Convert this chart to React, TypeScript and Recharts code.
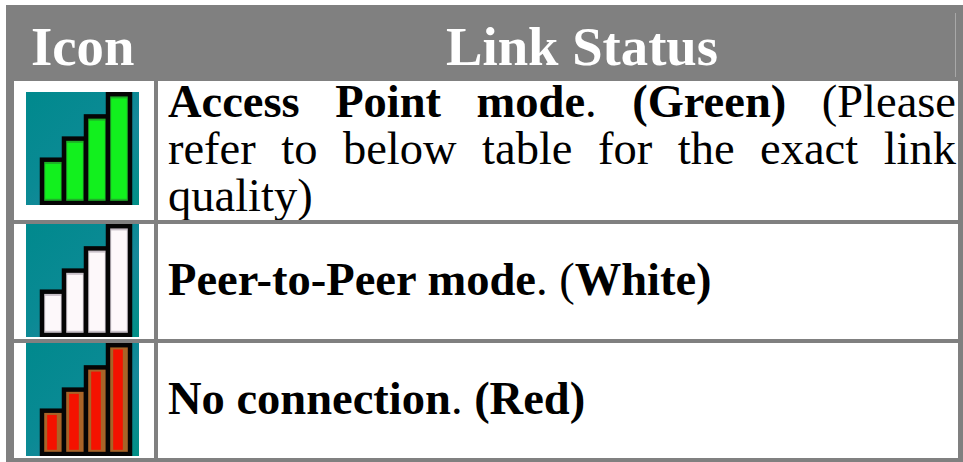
import { BarChart, Bar, XAxis, YAxis } from 'recharts';

// signal strength levels of the four bars in each icon
const levelNames = ['L1', 'L2', 'L3', 'L4'];
const greenLevels = [39, 58, 78, 98];
const whiteLevels = [39, 58, 78, 98];
const redLevels = [39, 58, 78, 98];

const toRows = (values: number[]) => levelNames.map((name, i) => ({ name, value: values[i] }));

const SERIF = '"Liberation Serif", "Times New Roman", serif';
const GRAY = '#808080';

const BarShape = (props: any) => {
  const { x, y, width, height, fill, rim, coreLeft, coreRight } = props;
  const inset = 2.2;
  return (
    <g>
      <rect x={x} y={y} width={width} height={height} fill="#050505" stroke="#050505" strokeWidth={4.5} />
      <rect x={x + inset} y={y + inset} width={width - inset * 2} height={height - inset * 2} fill={rim} />
      <rect
        x={x + inset + coreLeft}
        y={y + inset + 2}
        width={width - inset * 2 - coreLeft - coreRight}
        height={height - inset * 2 - 4}
        fill={fill}
      />
    </g>
  );
};

type IconProps = { top: number; values: number[]; fill: string; rim: string; coreLeft: number; coreRight: number };

const SignalIcon = ({ top, values, fill, rim, coreLeft, coreRight }: IconProps) => (
  <div
    style={{
      position: 'absolute',
      left: 26,
      top,
      width: 113,
      height: 113,
      background: 'linear-gradient(to bottom right, #00898d 0%, #0a8a94 45%, #16889a 62%, #008f86 100%)',
    }}
  >
    <BarChart
      width={113}
      height={113}
      data={toRows(values)}
      margin={{ top: 0, right: 9, bottom: 2, left: 16 }}
      barCategoryGap={0}
    >
      <XAxis dataKey="name" hide />
      <YAxis hide domain={[0, 100]} />
      <Bar
        dataKey="value"
        isAnimationActive={false}
        shape={(p: any) => <BarShape {...p} fill={fill} rim={rim} coreLeft={coreLeft} coreRight={coreRight} />}
      />
    </BarChart>
  </div>
);

const box = (left: number, top: number, width: number, height: number, background: string) => (
  <div style={{ position: 'absolute', left, top, width, height, background }} />
);

const line = (top: number, children: React.ReactNode, justify = true) => (
  <div
    style={{
      position: 'absolute',
      left: 168,
      top,
      width: 788,
      height: 50,
      lineHeight: '50px',
      fontSize: 46.5,
      fontFamily: SERIF,
      color: '#000',
      whiteSpace: justify ? 'normal' : 'nowrap',
      textAlign: justify ? 'justify' : 'left',
      textAlignLast: justify ? 'justify' : 'left',
    }}
  >
    {children}
  </div>
);

const header = (left: number, text: string) => (
  <div
    style={{
      position: 'absolute',
      left,
      top: 15,
      lineHeight: '64px',
      fontSize: 54.7,
      fontWeight: 700,
      fontFamily: SERIF,
      color: '#fff',
      whiteSpace: 'nowrap',
    }}
  >
    {text}
  </div>
);

export default function App() {
  return (
    <div style={{ position: 'fixed', left: 0, top: 0, width: 963, height: 462, background: '#fff', overflow: 'hidden' }}>
      {box(6, 5, 957, 457, GRAY)}
      {box(955, 13, 1, 64, '#a8a8a8')}
      {box(14, 81, 140, 139, '#fff')}
      {box(158, 81, 800, 139, '#fff')}
      {box(14, 224, 140, 115, '#fff')}
      {box(158, 224, 800, 115, '#fff')}
      {box(14, 343, 140, 115, '#fff')}
      {box(158, 343, 800, 115, '#fff')}

      {header(31, 'Icon')}
      {header(446, 'Link Status')}

      <SignalIcon top={92} values={greenLevels} fill="#12f01e" rim="#1fae28" coreLeft={1} coreRight={1} />
      <SignalIcon top={224} values={whiteLevels} fill="#fdf8fa" rim="#c8c0c8" coreLeft={1} coreRight={1} />
      <SignalIcon top={343} values={redLevels} fill="#f41200" rim="#a86428" coreLeft={3} coreRight={5} />

      {line(77, <><b>Access Point mode</b>. <b>(Green)</b> (Please</>)}
      {line(124, <>refer to below table for the exact link</>)}
      {line(171, <>quality)</>, false)}
      {line(255, <><b>Peer-to-Peer mode</b>. (<b>White)</b></>, false)}
      {line(374, <><b>No connection</b>. <b>(Red)</b></>, false)}

      {/* the third line's descenders get cut off by the row border */}
      {box(158, 220, 800, 4, GRAY)}
    </div>
  );
}
